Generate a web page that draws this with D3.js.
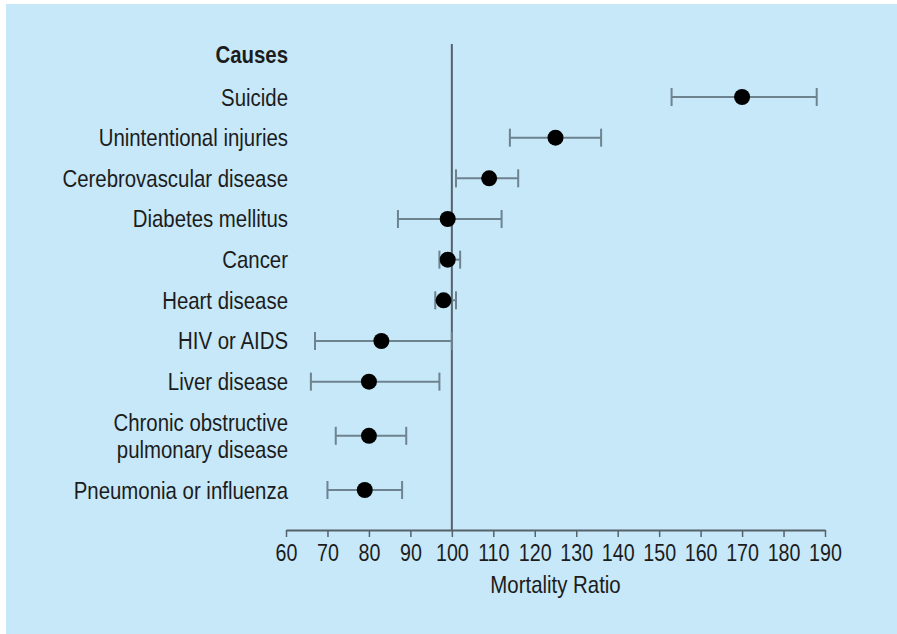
<!DOCTYPE html>
<html>
<head>
<meta charset="utf-8">
<script src="https://cdn.jsdelivr.net/npm/d3@7"></script>
<style>
  html, body { margin: 0; padding: 0; background: #fff; }
  svg text { font-family: "Liberation Sans", Arial, sans-serif; fill: #1c1c1c; }
</style>
</head>
<body>
<div id="chart"></div>
<script>
// data
const causes = ["Suicide", "Unintentional injuries", "Cerebrovascular disease", "Diabetes mellitus",
  "Cancer", "Heart disease", "HIV or AIDS", "Liver disease",
  "Chronic obstructive\npulmonary disease", "Pneumonia or influenza"];
const ratio = [170, 125, 109, 99, 99, 98, 83, 80, 80, 79];
const ciLow = [153, 114, 101, 87, 97, 96, 67, 66, 72, 70];
const ciHigh = [188, 136, 116, 112, 102, 101, 100, 97, 89, 88];
const xTicks = d3.range(60, 191, 10);

const width = 897, height = 634;
const fs = 24, squeeze = 0.85;   // condensed look

const svg = d3.select("#chart").append("svg")
    .attr("width", width)
    .attr("height", height);

svg.append("rect")
    .attr("x", 6).attr("y", 4)
    .attr("width", width - 6).attr("height", height - 4)
    .attr("fill", "#c6e8f9");

const x = d3.scaleLinear().domain([60, 190]).range([286, 825]);

// rows: a two-line label takes a little more room
const extraLine = 0.665;
const rows = causes.map((c, i) => ({
  label: c, lines: c.split("\n"), value: ratio[i], lo: ciLow[i], hi: ciHigh[i]
}));
let acc = 0;
rows.forEach(r => {
  const h = 1 + (r.lines.length - 1) * extraLine;
  r.u = acc + h / 2;
  acc += h;
});
const y = d3.scaleLinear().domain([0.5, acc - 0.5]).range([97, 490]);

const axisY = 530;
const labelX = 288;

// reference line at 100
svg.append("line")
    .attr("x1", x(100)).attr("x2", x(100))
    .attr("y1", 44).attr("y2", axisY)
    .attr("stroke", "#56626b").attr("stroke-width", 2);

// x axis
const axis = svg.append("g")
    .attr("transform", `translate(0,${axisY})`)
    .call(d3.axisBottom(x).tickValues(xTicks).tickSize(7).tickPadding(7).tickSizeOuter(0));
axis.attr("font-family", null);
axis.select(".domain").attr("stroke", "#56626b").attr("stroke-width", 2);
axis.selectAll(".tick line").attr("stroke", "#56626b").attr("stroke-width", 1.5);
axis.selectAll(".tick text")
    .attr("font-size", fs)
    .attr("fill", "#1c1c1c")
    .attr("transform", "scale(0.82,1)");

svg.append("text")
    .attr("transform", `translate(${x(125)},593) scale(${squeeze},1)`)
    .attr("text-anchor", "middle")
    .attr("font-size", fs)
    .text("Mortality Ratio");

// header
svg.append("text")
    .attr("transform", `translate(${labelX},63) scale(${squeeze},1)`)
    .attr("text-anchor", "end")
    .attr("font-size", fs)
    .attr("font-weight", "bold")
    .text("Causes");

// labels
const lineH = 27;
svg.append("g").selectAll("g")
    .data(rows)
    .join("g")
    .attr("transform", d => `translate(${labelX},${y(d.u)}) scale(${squeeze},1)`)
    .selectAll("text")
    .data(d => d.lines.map((t, j) => ({t, j, n: d.lines.length})))
    .join("text")
    .attr("text-anchor", "end")
    .attr("font-size", fs)
    .attr("y", d => (d.j - (d.n - 1) / 2) * lineH + 8.5)
    .text(d => d.t);

// error bars
const bars = svg.append("g")
    .attr("stroke", "#6e828f")
    .attr("stroke-width", 2)
    .selectAll("g")
    .data(rows)
    .join("g");
bars.append("line")
    .attr("x1", d => x(d.lo)).attr("x2", d => x(d.hi))
    .attr("y1", d => y(d.u)).attr("y2", d => y(d.u));
bars.append("line")
    .attr("x1", d => x(d.lo)).attr("x2", d => x(d.lo))
    .attr("y1", d => y(d.u) - 9).attr("y2", d => y(d.u) + 9);
bars.append("line")
    .attr("x1", d => x(d.hi)).attr("x2", d => x(d.hi))
    .attr("y1", d => y(d.u) - 9).attr("y2", d => y(d.u) + 9);

// points
svg.append("g")
    .selectAll("circle")
    .data(rows)
    .join("circle")
    .attr("cx", d => x(d.value))
    .attr("cy", d => y(d.u))
    .attr("r", 8)
    .attr("fill", "#000");
</script>
</body>
</html>
